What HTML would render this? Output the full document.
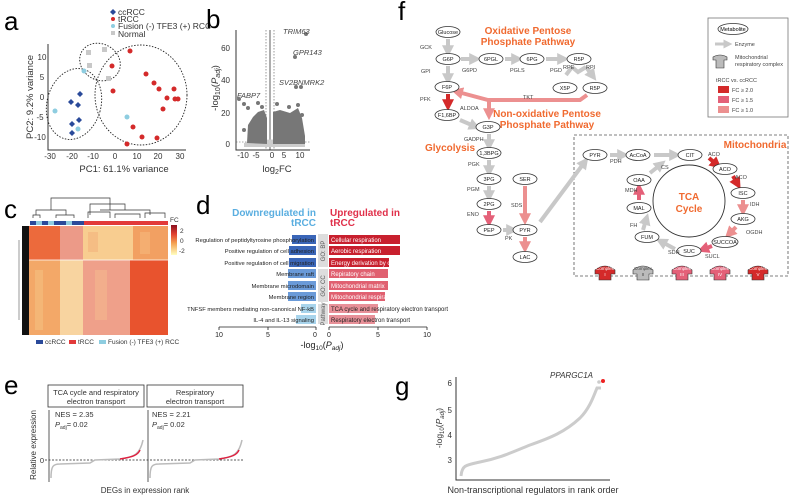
<!DOCTYPE html>
<html><head><meta charset="utf-8"><style>
html,body{margin:0;padding:0;background:#fff}
svg{display:block;font-family:"Liberation Sans",sans-serif}
</style></head><body>
<svg width="790" height="497" viewBox="0 0 790 497" xmlns="http://www.w3.org/2000/svg">
<defs>
<marker id="ag" markerWidth="3" markerHeight="3" refX="1.2" refY="1.5" orient="auto" markerUnits="strokeWidth"><path d="M0,0 L3,1.5 L0,3z" fill="#c8c8c8"/></marker>
<marker id="ar1" markerWidth="3" markerHeight="3" refX="1.2" refY="1.5" orient="auto" markerUnits="strokeWidth"><path d="M0,0 L3,1.5 L0,3z" fill="#d42a2a"/></marker>
<marker id="ar2" markerWidth="3" markerHeight="3" refX="1.2" refY="1.5" orient="auto" markerUnits="strokeWidth"><path d="M0,0 L3,1.5 L0,3z" fill="#e46078"/></marker>
<marker id="ar3" markerWidth="3" markerHeight="3" refX="1.2" refY="1.5" orient="auto" markerUnits="strokeWidth"><path d="M0,0 L3,1.5 L0,3z" fill="#ec9090"/></marker>
</defs>

<!-- panel a -->
<text x="4" y="30" font-size="26">a</text>
<g font-size="8.5" fill="#333">
<path d="M113,9 l3,3 -3,3 -3,-3z" fill="#2a4a9a"/><text x="118" y="15">ccRCC</text>
<circle cx="113" cy="19" r="2" fill="#d42a2a"/><text x="118" y="22">tRCC</text>
<circle cx="113" cy="26" r="2" fill="#8ecde0"/><text x="118" y="29">Fusion (-) TFE3 (+) RCC</text>
<rect x="111" y="31" width="4" height="4" fill="#c8c8c8"/><text x="118" y="37">Normal</text>
</g>
<path d="M48,44 V150 H186" stroke="#333" fill="none" stroke-width="1"/>
<g font-size="8" fill="#333" text-anchor="middle">
<text x="50" y="159">-30</text><text x="72" y="159">-20</text><text x="93" y="159">-10</text><text x="115" y="159">0</text><text x="137" y="159">10</text><text x="158" y="159">20</text><text x="180" y="159">30</text>
<text x="42" y="60">10</text><text x="42" y="80">5</text><text x="42" y="100">0</text><text x="40" y="120">-5</text><text x="40" y="140">-10</text>
<text x="124" y="172" font-size="9.5">PC1: 61.1% variance</text>
<text transform="translate(33,97) rotate(-90)" font-size="9.5">PC2: 9.2% variance</text>
</g>
<g fill="none" stroke="#222" stroke-dasharray="1.5,1.5" stroke-width="0.9">
<ellipse cx="74" cy="104" rx="27" ry="36" transform="rotate(15 74 104)"/>
<ellipse cx="100" cy="62" rx="21" ry="18" transform="rotate(30 100 62)"/>
<ellipse cx="141" cy="95" rx="46" ry="50"/>
</g>
<g fill="#c8c8c8"><rect x="86" y="50" width="5" height="5"/><rect x="102" y="47" width="5" height="5"/><rect x="87" y="63" width="5" height="5"/><rect x="106" y="76" width="5" height="5"/></g>
<g fill="#8ecde0"><circle cx="84" cy="71" r="2.5"/><circle cx="55" cy="111" r="2.5"/><circle cx="78" cy="129" r="2.5"/><circle cx="127" cy="117" r="2.5"/></g>
<g fill="#2a4a9a"><path d="M80,91 l3,3 -3,3 -3,-3z"/><path d="M71,99 l3,3 -3,3 -3,-3z"/><path d="M78,102 l3,3 -3,3 -3,-3z"/><path d="M79,117 l3,3 -3,3 -3,-3z"/><path d="M72,121 l3,3 -3,3 -3,-3z"/><path d="M72,130 l3,3 -3,3 -3,-3z"/></g>
<g fill="#d42a2a"><circle cx="130" cy="51" r="2.5"/><circle cx="112" cy="66" r="2.5"/><circle cx="113" cy="91" r="2.5"/><circle cx="146" cy="74" r="2.5"/><circle cx="154" cy="83" r="2.5"/><circle cx="159" cy="89" r="2.5"/><circle cx="174" cy="89" r="2.5"/><circle cx="167" cy="98" r="2.5"/><circle cx="175" cy="99" r="2.5"/><circle cx="178" cy="99" r="2.5"/><circle cx="163" cy="109" r="2.5"/><circle cx="133" cy="127" r="2.5"/><circle cx="142" cy="137" r="2.5"/><circle cx="157" cy="138" r="2.5"/><circle cx="127" cy="144" r="2.5"/></g>

<!-- panel b -->
<text x="206" y="28" font-size="26">b</text>
<path d="M236,30 V150 H310" stroke="#333" fill="none"/>
<line x1="270" y1="30" x2="270" y2="150" stroke="#333" stroke-width="0.8"/>
<line x1="266" y1="30" x2="266" y2="150" stroke="#555" stroke-width="0.6" stroke-dasharray="1.5,1.5"/>
<line x1="274" y1="30" x2="274" y2="150" stroke="#555" stroke-width="0.6" stroke-dasharray="1.5,1.5"/>
<line x1="236" y1="142" x2="310" y2="142" stroke="#555" stroke-width="0.6" stroke-dasharray="1.5,1.5"/>
<path d="M244,143 Q270,136 305,143 L305,147 L244,147z" fill="#ccc"/>
<path d="M247,143 L248,125 253,117 258,112 264,110 267,118 267,144z" fill="#777"/>
<path d="M273,144 L273,112 280,110 290,113 298,108 302,118 305,136 305,144z" fill="#777"/>
<g fill="#777"><circle cx="239" cy="99" r="2"/><circle cx="244" cy="104" r="2"/><circle cx="248" cy="108" r="2"/><circle cx="258" cy="103" r="2"/><circle cx="262" cy="107" r="2"/><circle cx="277" cy="104" r="2"/><circle cx="289" cy="107" r="2"/><circle cx="298" cy="105" r="2"/><circle cx="302" cy="115" r="2"/><circle cx="244" cy="130" r="2"/><circle cx="296" cy="87" r="2"/><circle cx="301" cy="87" r="2"/><circle cx="295" cy="57" r="2"/><circle cx="306" cy="34" r="2"/></g>
<g font-size="7.5" font-style="italic" fill="#444"><text x="283" y="34">TRIM63</text><text x="293" y="55">GPR143</text><text x="279" y="85">SV2B</text><text x="298" y="85">NMRK2</text><text x="237" y="98">FABP7</text></g>
<g font-size="8" fill="#333" text-anchor="middle"><text x="243" y="158">-10</text><text x="256" y="158">-5</text><text x="272" y="158">0</text><text x="284" y="158">5</text><text x="300" y="158">10</text>
<text x="230" y="51" text-anchor="end">60</text><text x="230" y="83" text-anchor="end">40</text><text x="230" y="116" text-anchor="end">20</text><text x="230" y="147" text-anchor="end">0</text>
<text x="277" y="172" font-size="9.5">log<tspan font-size="7" dy="2">2</tspan><tspan dy="-2">FC</tspan></text>
<text transform="translate(218,88) rotate(-90)" font-size="9.5">-log<tspan font-size="7" dy="2">10</tspan><tspan dy="-2">(</tspan><tspan font-style="italic">P</tspan><tspan font-size="7" dy="2" font-style="italic">adj</tspan><tspan dy="-2">)</tspan></text>
</g>

<!-- panel c -->
<text x="4" y="218" font-size="26">c</text>
<g stroke="#333" fill="none" stroke-width="0.7">
<path d="M51,210 V198 H110 V210 M36,215 V210 H66 V215 M90,215 V204 H125 V210 M100,210 H150 V215 M33,218 V215 H40 V218 M56,218 V215 H74 V218 M88,218 V212 H110 V218 M115,218 V214 H140 V218 M145,218 V213 H165 V218"/>
</g>
<g>
<rect x="30" y="221" width="6" height="4" fill="#2a4a9a"/><rect x="36" y="221" width="6" height="4" fill="#8ecde0"/><rect x="42" y="221" width="6" height="4" fill="#2a4a9a"/><rect x="48" y="221" width="6" height="4" fill="#8ecde0"/><rect x="54" y="221" width="6" height="4" fill="#2a4a9a"/><rect x="60" y="221" width="6" height="4" fill="#2a4a9a"/><rect x="66" y="221" width="6" height="4" fill="#8ecde0"/><rect x="72" y="221" width="6" height="4" fill="#2a4a9a"/><rect x="78" y="221" width="6" height="4" fill="#2a4a9a"/>
<rect x="84" y="221" width="84" height="4" fill="#e23a3a"/>
</g>
<rect x="22" y="226" width="7" height="109" fill="#111"/>
<line x1="19" y1="240" x2="19" y2="320" stroke="#bbb" stroke-width="1.5"/>
<rect x="29" y="226" width="31" height="34" fill="#ec6a3c"/>
<rect x="60" y="226" width="23" height="34" fill="#ec9a88"/>
<rect x="83" y="226" width="50" height="34" fill="#f8cd90"/>
<rect x="133" y="226" width="35" height="34" fill="#f2a062"/>
<rect x="29" y="260" width="31" height="75" fill="#f3a868"/>
<rect x="60" y="260" width="23" height="75" fill="#f8d4a0"/>
<rect x="83" y="260" width="47" height="75" fill="#efa08a"/>
<rect x="130" y="260" width="38" height="75" fill="#e8532e"/>
<line x1="29" y1="260" x2="168" y2="260" stroke="#fff" stroke-width="0.8"/>
<g opacity="0.35"><rect x="35" y="270" width="8" height="60" fill="#f8d090"/><rect x="95" y="270" width="12" height="50" fill="#f8c890"/><rect x="140" y="232" width="10" height="22" fill="#f8c890"/><rect x="88" y="232" width="10" height="20" fill="#f0a070"/></g>
<defs><linearGradient id="cb" x1="0" y1="0" x2="0" y2="1"><stop offset="0" stop-color="#8a1020"/><stop offset="0.3" stop-color="#e04030"/><stop offset="0.6" stop-color="#f4a050"/><stop offset="1" stop-color="#ffffc0"/></linearGradient></defs>
<rect x="171" y="225" width="6" height="30" fill="url(#cb)"/>
<g font-size="6.5" fill="#333"><text x="170" y="222">FC</text><text x="180" y="233">2</text><text x="180" y="243">0</text><text x="179" y="253">-2</text></g>
<g font-size="6.5" fill="#333">
<rect x="36" y="340" width="7" height="4" fill="#2a4a9a"/><text x="45" y="344">ccRCC</text>
<rect x="69" y="340" width="7" height="4" fill="#e23a3a"/><text x="78" y="344">tRCC</text>
<rect x="99" y="340" width="7" height="4" fill="#8ecde0"/><text x="108" y="344">Fusion (-) TFE3 (+) RCC</text>
</g>

<!-- panel d -->
<text x="196" y="214" font-size="26">d</text>
<g font-size="10" font-weight="bold"><text x="316" y="216" text-anchor="end" fill="#5aaee0">Downregulated in</text><text x="316" y="226" text-anchor="end" fill="#5aaee0">tRCC</text>
<text x="330" y="216" fill="#e0304a">Upregulated in</text><text x="330" y="226" fill="#e0304a">tRCC</text></g>
<rect x="318" y="234" width="10" height="33" fill="#ddd"/><rect x="318" y="269" width="10" height="33" fill="#ddd"/><rect x="318" y="304" width="10" height="20" fill="#ddd"/>
<g font-size="6" fill="#555" text-anchor="middle"><text transform="translate(325,251) rotate(-90)">GO: BP</text><text transform="translate(325,286) rotate(-90)">GO: CC</text><text transform="translate(325,314) rotate(-90)">Pathway</text></g>
<g>
<rect x="292" y="235" width="24" height="9" fill="#3a66b8"/><rect x="289" y="246" width="27" height="9" fill="#3a66b8"/><rect x="289" y="258" width="27" height="9" fill="#3a66b8"/>
<rect x="288" y="269" width="28" height="9" fill="#6a9ad8"/><rect x="288" y="281" width="28" height="9" fill="#6a9ad8"/><rect x="288" y="292" width="28" height="9" fill="#6a9ad8"/>
<rect x="301" y="304" width="15" height="9" fill="#a8d4ec"/><rect x="296" y="315" width="20" height="9" fill="#a8d4ec"/>
<rect x="329" y="235" width="71" height="9" fill="#c8202e"/><rect x="329" y="246" width="71" height="9" fill="#c8202e"/><rect x="329" y="258" width="60" height="9" fill="#c8202e"/>
<rect x="329" y="269" width="59" height="9" fill="#e06070"/><rect x="329" y="281" width="59" height="9" fill="#e06070"/><rect x="329" y="292" width="56" height="9" fill="#e06070"/>
<rect x="329" y="304" width="49" height="9" fill="#e89098"/><rect x="329" y="315" width="46" height="9" fill="#e89098"/>
</g>
<g font-size="5.8" fill="#222" text-anchor="end">
<text x="314" y="242">Regulation of peptidyltyrosine phosphorylation</text>
<text x="314" y="253">Positive regulation of cell adhesion</text>
<text x="314" y="265">Positive regulation of cell migration</text>
<text x="314" y="276">Membrane raft</text>
<text x="314" y="288">Membrane microdomain</text>
<text x="314" y="299">Membrane region</text>
<text x="314" y="311">TNFSF members mediating non-canonical NF-kB</text>
<text x="314" y="322">IL-4 and IL-13 signaling</text>
</g>
<g font-size="6" fill="#fff">
<text x="331" y="242">Cellular respiration</text><text x="331" y="253">Aerobic respiration</text><text x="331" y="265">Energy derivation by oxidation of organic compounds</text>
<text x="331" y="276">Repiratory chain</text><text x="331" y="288">Mitochondrial matrix</text><text x="331" y="299">Mitochondrial respiratory chain</text>
<text x="331" y="311" fill="#222">TCA cycle and respiratory electron transport</text><text x="331" y="322" fill="#222">Respiratory electron transport</text>
</g>
<path d="M219,327 H316 M219,327 v3 M268,327 v3 M316,327 v3 M329,327 H427 M329,327 v3 M378,327 v3 M427,327 v3" stroke="#222" fill="none" stroke-width="0.8"/>
<g font-size="7" fill="#222" text-anchor="middle"><text x="219" y="337">10</text><text x="268" y="337">5</text><text x="315" y="337">0</text><text x="329" y="337">0</text><text x="378" y="337">5</text><text x="427" y="337">10</text>
<text x="322" y="348" font-size="9">-log<tspan font-size="6.5" dy="2">10</tspan><tspan dy="-2">(</tspan><tspan font-style="italic">P</tspan><tspan font-size="6.5" dy="2" font-style="italic">adj</tspan><tspan dy="-2">)</tspan></text></g>

<!-- panel e -->
<text x="4" y="394" font-size="26">e</text>
<rect x="48" y="385" width="96" height="22" fill="none" stroke="#333" stroke-width="0.8"/>
<rect x="147" y="385" width="96" height="22" fill="none" stroke="#333" stroke-width="0.8"/>
<g font-size="7.5" fill="#333" text-anchor="middle"><text x="96" y="395">TCA cycle and respiratory</text><text x="96" y="404">electron transport</text><text x="195" y="395">Respiratory</text><text x="195" y="404">electron transport</text></g>
<path d="M49,410 V482 M148,410 V482" stroke="#333" stroke-width="0.8"/>
<line x1="45" y1="460" x2="243" y2="460" stroke="#222" stroke-dasharray="2,1.5" stroke-width="0.7"/>
<g font-size="7.5" fill="#333"><text x="55" y="417">NES = 2.35</text><text x="55" y="427"><tspan font-style="italic">P</tspan><tspan font-size="5" dy="2">adj</tspan><tspan dy="-2">= 0.02</tspan></text>
<text x="152" y="417">NES = 2.21</text><text x="152" y="427"><tspan font-style="italic">P</tspan><tspan font-size="5" dy="2">adj</tspan><tspan dy="-2">= 0.02</tspan></text>
<text x="44" y="463" text-anchor="end">0</text></g>
<path d="M51,478 C51,466 53,464 60,464 L90,463 L95,460 L120,459 C135,457 140,454 143,440" stroke="#bbb" stroke-width="1.5" fill="none"/>
<path d="M120,459 C133,457 138,455 140,450" stroke="#e02040" stroke-width="1.5" fill="none"/>
<path d="M150,478 C150,466 152,464 159,464 L190,463 L195,460 L219,459 C234,457 239,454 242,440" stroke="#bbb" stroke-width="1.5" fill="none"/>
<path d="M219,459 C232,457 237,455 239,450" stroke="#e02040" stroke-width="1.5" fill="none"/>
<text transform="translate(36,445) rotate(-90)" font-size="8" fill="#333" text-anchor="middle">Relative expression</text>
<text x="145" y="493" font-size="8" fill="#333" text-anchor="middle">DEGs in expression rank</text>

<!-- panel g -->
<text x="395" y="395" font-size="26">g</text>
<path d="M456,377 V480 H610" stroke="#333" fill="none"/>
<g font-size="8" fill="#333" text-anchor="end"><text x="452" y="386">6</text><text x="452" y="413">5</text><text x="452" y="438">4</text><text x="452" y="463">3</text></g>
<path d="M461,476 C462,465 466,465 480,462 C500,458 510,453 530,445 C550,438 565,432 580,418 C590,408 594,395 597,388 L601,388" stroke="#ccc" stroke-width="3" fill="none"/>
<circle cx="603" cy="381" r="2" fill="#e22"/><circle cx="599" cy="382" r="1.8" fill="#ccc"/>
<text x="550" y="378" font-size="8" font-style="italic" fill="#333">PPARGC1A</text>
<text transform="translate(442,428) rotate(-90)" font-size="8.5" fill="#333" text-anchor="middle">-log<tspan font-size="6" dy="2">10</tspan><tspan dy="-2">(</tspan><tspan font-style="italic">P</tspan><tspan font-size="6" dy="2" font-style="italic">adj</tspan><tspan dy="-2">)</tspan></text>
<text x="533" y="493" font-size="9" fill="#333" text-anchor="middle">Non-transcriptional regulators in rank order</text>

<!-- panel f -->
<text x="398" y="20" font-size="26">f</text>
<rect x="574" y="135" width="214" height="141" fill="none" stroke="#555" stroke-dasharray="3,2" stroke-width="0.8"/>
<rect x="708" y="18" width="80" height="99" fill="#fff" stroke="#777" stroke-width="0.8"/>
<ellipse cx="733" cy="29" rx="15" ry="5.5" fill="#fff" stroke="#333" stroke-width="0.8"/>
<text x="733" y="31" font-size="5.5" text-anchor="middle">Metabolite</text>
<line x1="715" y1="44" x2="727" y2="44" stroke="#c8c8c8" stroke-width="3" marker-end="url(#ag)"/>
<g font-size="5.5" fill="#444"><text x="735" y="46">Enzyme</text><text x="735" y="59">Mitochondrial</text><text x="735" y="66">respiratory complex</text><text x="716" y="82">tRCC vs. ccRCC</text><text x="732" y="92">FC ≥ 2.0</text><text x="732" y="102">FC ≥ 1.5</text><text x="732" y="112">FC ≥ 1.0</text></g>
<path d="M713,57 q7,-4 14,0 v3 h-3 v8 h-8 v-8 h-3z" fill="#bbb" stroke="#333" stroke-width="0.6"/>
<rect x="718" y="86" width="11" height="7" fill="#d42a2a"/><rect x="718" y="96" width="11" height="7" fill="#e46078"/><rect x="718" y="106" width="11" height="7" fill="#ec9090"/>

<g font-weight="bold" fill="#f06a30" text-anchor="middle" font-size="10">
<text x="528" y="34">Oxidative Pentose</text><text x="528" y="45">Phosphate Pathway</text>
<text x="547" y="117">Non-oxidative Pentose</text><text x="547" y="128">Phosphate Pathway</text>
<text x="450" y="151">Glycolysis</text><text x="755" y="148">Mitochondria</text>
<text x="689" y="200">TCA</text><text x="689" y="212">Cycle</text></g>
<circle cx="689" cy="201" r="36" fill="none" stroke="#333" stroke-width="0.9"/>

<g stroke="#c8c8c8" stroke-width="4" fill="none" marker-end="url(#ag)">
<line x1="448" y1="39" x2="448" y2="50"/><line x1="461" y1="59" x2="474" y2="59"/><line x1="505" y1="59" x2="516" y2="59"/><line x1="546" y1="59" x2="562" y2="59"/>
<line x1="448" y1="66" x2="448" y2="78"/><line x1="460" y1="120" x2="474" y2="126"/>
<line x1="489" y1="134" x2="489" y2="144"/><line x1="489" y1="160" x2="489" y2="170"/><line x1="489" y1="186" x2="489" y2="195"/>
<line x1="503" y1="230" x2="511" y2="230"/><line x1="540" y1="222" x2="584" y2="163"/>
<line x1="610" y1="155" x2="622" y2="155"/><line x1="654" y1="155" x2="674" y2="155"/><line x1="650" y1="173" x2="660" y2="165"/>
<line x1="675" y1="249" x2="662" y2="242"/><line x1="643" y1="230" x2="646" y2="220"/>
<path d="M572,67 L566,75 M586,67 L592,75" marker-end="url(#ag)"/>
</g>
<g stroke="#c8c8c8" stroke-width="4" fill="none"><path d="M572,67 L578,72 L586,67"/></g>
<line x1="448" y1="94" x2="448" y2="104" stroke="#d42a2a" stroke-width="4" marker-end="url(#ar1)"/>
<line x1="709" y1="158" x2="716" y2="164" stroke="#d42a2a" stroke-width="4" marker-end="url(#ar1)"/>
<line x1="733" y1="176" x2="737" y2="183" stroke="#d42a2a" stroke-width="4" marker-end="url(#ar1)"/>
<line x1="489" y1="211" x2="489" y2="220" stroke="#e46078" stroke-width="4" marker-end="url(#ar2)"/>
<line x1="712" y1="246" x2="704" y2="249" stroke="#e46078" stroke-width="4" marker-end="url(#ar2)"/>
<line x1="639" y1="200" x2="639" y2="190" stroke="#e46078" stroke-width="4" marker-end="url(#ar2)"/>
<g stroke="#ec9090" stroke-width="4" fill="none">
<line x1="525" y1="186" x2="525" y2="218" marker-end="url(#ar3)"/>
<line x1="525" y1="237" x2="525" y2="246" marker-end="url(#ar3)"/>
<line x1="743" y1="200" x2="743" y2="209" marker-end="url(#ar3)"/>
<line x1="736" y1="227" x2="730" y2="233" marker-end="url(#ar3)"/>
<path d="M587,95 L580,100 H488 L458,92" marker-end="url(#ar3)"/>
<line x1="489" y1="100" x2="489" y2="113" marker-end="url(#ar3)"/>
</g>

<g fill="#fff" stroke="#333" stroke-width="0.8">
<ellipse cx="448" cy="32" rx="12" ry="5.5"/><ellipse cx="448" cy="59" rx="12" ry="5.5"/><ellipse cx="491" cy="59" rx="12" ry="5.5"/><ellipse cx="532" cy="59" rx="12" ry="5.5"/><ellipse cx="579" cy="59" rx="12" ry="5.5"/>
<ellipse cx="565" cy="88" rx="12" ry="5.5"/><ellipse cx="595" cy="88" rx="12" ry="5.5"/><ellipse cx="447" cy="87" rx="12" ry="5.5"/><ellipse cx="447" cy="115" rx="12" ry="5.5"/><ellipse cx="488" cy="127" rx="12" ry="5.5"/>
<ellipse cx="489" cy="153" rx="12" ry="5.5"/><ellipse cx="489" cy="179" rx="12" ry="5.5"/><ellipse cx="489" cy="204" rx="12" ry="5.5"/><ellipse cx="489" cy="230" rx="12" ry="5.5"/>
<ellipse cx="525" cy="179" rx="12" ry="5.5"/><ellipse cx="525" cy="230" rx="12" ry="5.5"/><ellipse cx="525" cy="257" rx="12" ry="5.5"/>
<ellipse cx="595" cy="155" rx="12" ry="5.5"/><ellipse cx="638" cy="155" rx="12" ry="5.5"/><ellipse cx="690" cy="155" rx="12" ry="5.5"/><ellipse cx="725" cy="169" rx="12" ry="5.5"/>
<ellipse cx="743" cy="193" rx="12" ry="5.5"/><ellipse cx="743" cy="219" rx="12" ry="5.5"/><ellipse cx="725" cy="242" rx="13" ry="5.5"/><ellipse cx="689" cy="251" rx="12" ry="5.5"/>
<ellipse cx="647" cy="237" rx="12" ry="5.5"/><ellipse cx="639" cy="208" rx="12" ry="5.5"/><ellipse cx="639" cy="180" rx="12" ry="5.5"/>
</g>
<g font-size="5.5" fill="#222" text-anchor="middle">
<text x="448" y="34">Glucose</text><text x="448" y="61">G6P</text><text x="491" y="61">6PGL</text><text x="532" y="61">6PG</text><text x="579" y="61">R5P</text>
<text x="565" y="90">X5P</text><text x="595" y="90">R5P</text><text x="447" y="89">F6P</text><text x="447" y="117">F1,6BP</text><text x="488" y="129">G3P</text>
<text x="489" y="155">1,3BPG</text><text x="489" y="181">3PG</text><text x="489" y="206">2PG</text><text x="489" y="232">PEP</text>
<text x="525" y="181">SER</text><text x="525" y="232">PYR</text><text x="525" y="259">LAC</text>
<text x="595" y="157">PYR</text><text x="638" y="157">AcCoA</text><text x="690" y="157">CIT</text><text x="725" y="171">ACO</text>
<text x="743" y="195">ISC</text><text x="743" y="221">AKG</text><text x="725" y="244">SUCCOA</text><text x="689" y="253">SUC</text>
<text x="647" y="239">FUM</text><text x="639" y="210">MAL</text><text x="639" y="182">OAA</text>
</g>
<g font-size="5.5" fill="#444">
<text x="420" y="49">GCK</text><text x="421" y="73">GPI</text><text x="462" y="72">G6PD</text><text x="510" y="72">PGLS</text><text x="550" y="72">PGD</text><text x="563" y="69">RPE</text><text x="586" y="69">RPI</text>
<text x="420" y="101">PFK</text><text x="460" y="110">ALDOA</text><text x="523" y="99">TKT</text><text x="464" y="141">GADPH</text><text x="468" y="166">PGK</text><text x="467" y="191">PGM</text><text x="467" y="216">ENO</text>
<text x="511" y="207">SDS</text><text x="505" y="240">PK</text><text x="610" y="163">PDH</text><text x="661" y="169">CS</text><text x="708" y="156">ACO</text><text x="735" y="179">ACO</text>
<text x="750" y="206">IDH</text><text x="746" y="234">OGDH</text><text x="705" y="258">SUCL</text><text x="668" y="254">SDH</text><text x="630" y="227">FH</text><text x="625" y="192">MDH</text>
</g>
<g stroke="#333" stroke-width="0.6">
<path d="M595,270 q10,-8 20,0 v4 h-4 v6 h-12 v-6 h-4z" fill="#d42a2a"/>
<path d="M633,270 q10,-8 20,0 v4 h-4 v6 h-12 v-6 h-4z" fill="#bbb"/>
<path d="M672,270 q10,-8 20,0 v4 h-4 v6 h-12 v-6 h-4z" fill="#e46078"/>
<path d="M710,270 q10,-8 20,0 v4 h-4 v6 h-12 v-6 h-4z" fill="#e46078"/>
<path d="M748,270 q10,-8 20,0 v4 h-4 v6 h-12 v-6 h-4z" fill="#d42a2a"/>
</g>
<g font-size="4.5" fill="#fff" text-anchor="middle">
<text x="605" y="270">Complex</text><text x="605" y="276">I</text><text x="643" y="270" fill="#444">Complex</text><text x="643" y="276" fill="#444">II</text>
<text x="682" y="270">Complex</text><text x="682" y="276">III</text><text x="720" y="270">Complex</text><text x="720" y="276">IV</text><text x="758" y="270">Complex</text><text x="758" y="276">V</text>
</g>
</svg>
</body></html>
